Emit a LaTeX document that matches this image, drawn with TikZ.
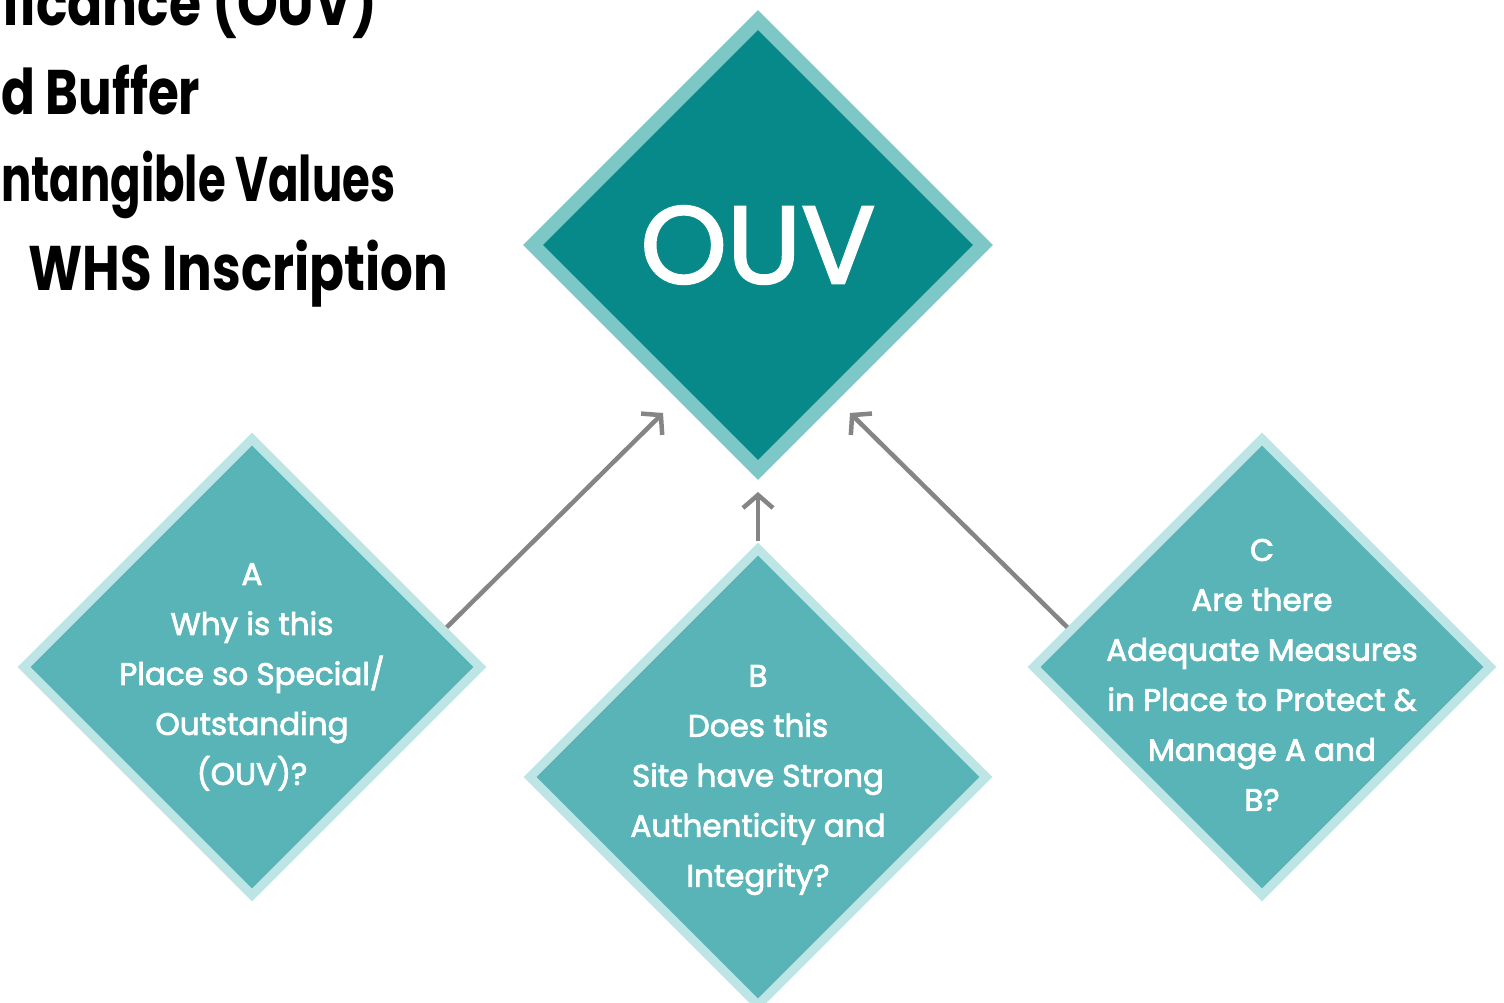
\documentclass[tikz,border=0pt]{standalone}
\usepackage{graphicx}
\usepackage{fontspec}
\setmainfont{Poppins}
\newfontfamily\qfont[FakeBold=2.5]{Poppins}
\newfontfamily\ouvfont[FakeBold=2]{Poppins}
\usetikzlibrary{shapes.geometric,arrows.meta,calc}
\definecolor{ouvfill}{HTML}{07898A}
\definecolor{ouvrim}{HTML}{7EC7C7}
\definecolor{qfill}{HTML}{58B4B6}
\definecolor{qrim}{HTML}{BEE5E6}
\definecolor{arrgray}{HTML}{858585}
\begin{document}
\begin{tikzpicture}[x=1pt,y=-1pt,
  ouvbox/.style={shape=diamond, aspect=1, inner sep=0pt, outer sep=0pt, minimum width=450pt, minimum height=450pt, fill=ouvfill, draw=ouvrim, line width=14pt},
  qbox/.style={shape=diamond, aspect=1, inner sep=0pt, outer sep=0pt, minimum width=456pt, minimum height=456pt, fill=qfill, draw=qrim, line width=9pt},
  qtext/.style={text=white, align=center, inner sep=0pt, font=\qfont\fontsize{31}{50}\selectfont},
  hdr/.style={anchor=base west, inner sep=0pt, text=black, font=\bfseries\fontsize{63}{63}\selectfont},
  arr/.style={draw=arrgray, line width=4.5pt, -{Straight Barb[length=13pt,width=30pt]}}
]
\useasboundingbox (0,0) rectangle (1504,1003);
\fill[white] (0,0) rectangle (1504,1003);

% header text (cut off at the edges in the reference)
\node[hdr] (h1) at (2,26) {\resizebox{375pt}{\height}{ficance (OUV)}};
\node[hdr] (h2) at (1,115) {\resizebox{199pt}{\height}{d Buffer}};
\node[hdr] (h3) at (1,202) {\resizebox{394pt}{\height}{ntangible Values}};
\node[hdr] (h4) at (28,290) {\resizebox{420pt}{\height}{WHS Inscription}};

% diamonds
\node[ouvbox] (ouv) at (758,245) {};
\node[text=white, inner sep=0pt, font=\ouvfont\fontsize{110}{110}\selectfont] (ouvt) at (758,245) {OUV};

\node[qbox] (A) at (252,667) {};
\node[qtext] (At) at (252,677) {A\\Why is this\\Place so Special/\\Outstanding\\(OUV)?};

\node[qbox] (B) at (758,777) {};
\node[qtext] (Bt) at (758,780) {B\\Does this\\Site have Strong\\Authenticity and\\Integrity?};

\node[qbox] (C) at (1262,667) {};
\node[qtext] (Ct) at (1262,675) {C\\Are there\\Adequate Measures\\in Place to Protect \&\\Manage A and\\B?};

% connectors
\coordinate (tA) at (663,413);
\coordinate (tB) at (758,492);
\coordinate (tC) at (850,413);
\draw[arr] ($(A.north)!0.84!(A.east)+(3.2,-3.2)$) -- (tA);
\draw[arr] ($(B.north)+(0,-8)$) -- (tB);
\draw[arr] ($(C.north)!0.84!(C.west)+(-3.2,-3.2)$) -- (tC);
\end{tikzpicture}
\end{document}
